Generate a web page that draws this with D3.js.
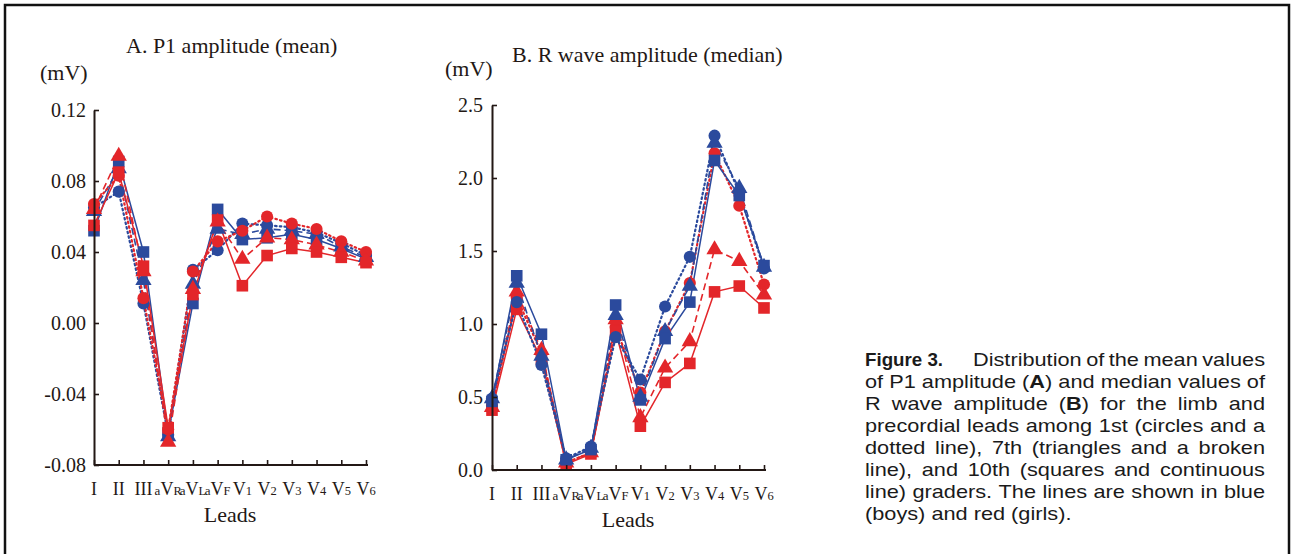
<!DOCTYPE html>
<html>
<head>
<meta charset="utf-8">
<script src="https://cdn.jsdelivr.net/npm/d3@7"></script>
<style>
  body { margin: 0; background: #fff; }
  svg { display: block; }
  .serif text, text.serif { font-family: 'Liberation Serif', 'Times New Roman', serif; }
</style>
</head>
<body>
<svg id="fig" width="1298" height="554"></svg>
<script>
// leads on the x axis
const leads = ["I", "II", "III", "aVR", "aVL", "aVF", "V1", "V2", "V3", "V4", "V5", "V6"];
// how each lead label is split: [small prefix, main, small suffix]
const leadParts = [["", "I", ""], ["", "II", ""], ["", "III", ""], ["a", "V", "R"], ["a", "V", "L"], ["a", "V", "F"],
  ["", "V", "1"], ["", "V", "2"], ["", "V", "3"], ["", "V", "4"], ["", "V", "5"], ["", "V", "6"]];

// A. P1 amplitude (mean), mV
const p1Boys1st = [0.065, 0.074, 0.011, -0.063, 0.030, 0.041, 0.056, 0.055, 0.054, 0.051, 0.045, 0.038];
const p1Boys7th = [0.063, 0.087, 0.024, -0.064, 0.022, 0.053, 0.050, 0.053, 0.052, 0.050, 0.043, 0.037];
const p1Boys10th = [0.052, 0.091, 0.040, -0.062, 0.011, 0.064, 0.047, 0.048, 0.050, 0.047, 0.042, 0.036];
const p1Girls1st = [0.067, 0.083, 0.014, -0.060, 0.029, 0.046, 0.052, 0.060, 0.056, 0.053, 0.046, 0.040];
const p1Girls7th = [0.064, 0.094, 0.029, -0.067, 0.019, 0.057, 0.036, 0.048, 0.047, 0.044, 0.040, 0.035];
const p1Girls10th = [0.055, 0.085, 0.032, -0.059, 0.016, 0.058, 0.021, 0.038, 0.042, 0.040, 0.037, 0.034];
const p1Ticks = [-0.08, -0.04, 0.00, 0.04, 0.08, 0.12];

// B. R wave amplitude (median), mV
const rBoys1st = [0.49, 1.15, 0.72, 0.08, 0.16, 0.91, 0.62, 1.12, 1.46, 2.29, 1.90, 1.38];
const rBoys7th = [0.49, 1.28, 0.78, 0.07, 0.15, 1.06, 0.50, 0.95, 1.26, 2.24, 1.93, 1.39];
const rBoys10th = [0.47, 1.33, 0.93, 0.07, 0.14, 1.13, 0.48, 0.90, 1.15, 2.12, 1.88, 1.40];
const rGirls1st = [0.44, 1.18, 0.80, 0.05, 0.12, 0.98, 0.53, 0.95, 1.28, 2.17, 1.81, 1.27];
const rGirls7th = [0.43, 1.22, 0.82, 0.05, 0.12, 1.03, 0.36, 0.70, 0.88, 1.51, 1.43, 1.20];
const rGirls10th = [0.41, 1.10, 0.76, 0.04, 0.11, 0.95, 0.30, 0.60, 0.73, 1.22, 1.26, 1.11];
const rTicks = [0.0, 0.5, 1.0, 1.5, 2.0, 2.5];

const BLUE = "#2b4a9d";
const RED = "#e3262a";
const INK = "#231815";

// grade -> marker + line style
const styles = {
  "1st": { symbol: d3.symbolCircle, size: 115, dash: "1.5,3.2", width: 2.2, cap: "round" },
  "7th": { symbol: d3.symbolTriangle, size: 115, dash: "7,4", width: 1.6, cap: "butt" },
  "10th": { symbol: d3.symbolSquare, size: 135, dash: null, width: 1.5, cap: "butt" }
};

const svg = d3.select("#fig");

// outer frame
svg.append("rect")
  .attr("x", 5).attr("y", 5).attr("width", 1284).attr("height", 560)
  .attr("fill", "none").attr("stroke", "#111").attr("stroke-width", 2.5);

function drawPanel(cfg) {
  const x = d3.scalePoint().domain(leads).range([cfg.x0, cfg.x1]);
  const y = d3.scaleLinear().domain(cfg.domain).range([cfg.yBottom, cfg.yTop]);
  const g = svg.append("g").attr("class", "serif");

  // lines first, markers on top
  cfg.series.forEach(s => {
    const st = styles[s.grade];
    const line = d3.line().x((d, i) => x(leads[i])).y(d => y(d));
    g.append("path")
      .attr("d", line(s.values))
      .attr("fill", "none")
      .attr("stroke", s.color)
      .attr("stroke-width", st.width)
      .attr("stroke-linecap", st.cap)
      .attr("stroke-dasharray", st.dash);
  });
  cfg.series.forEach(s => {
    const st = styles[s.grade];
    g.selectAll(null)
      .data(s.values)
      .enter()
      .append("path")
      .attr("d", d3.symbol().type(st.symbol).size(st.size))
      .attr("transform", (d, i) => "translate(" + x(leads[i]) + "," + y(d) + ")")
      .attr("fill", s.color);
  });

  // y axis, ticks point inward; plain hyphen for negatives
  const yAxis = g.append("g")
    .attr("transform", "translate(" + cfg.x0 + ",0)")
    .call(d3.axisLeft(y).tickValues(cfg.ticks)
      .tickFormat(d => cfg.fmt(d).replace("\u2212", "-"))
      .tickSize(-5).tickSizeOuter(0).tickPadding(cfg.pad));
  yAxis.attr("font-family", null);
  yAxis.selectAll("text").attr("font-size", 20).attr("fill", INK);

  // x axis
  const xAxis = g.append("g")
    .attr("transform", "translate(0," + cfg.yBottom + ")")
    .call(d3.axisBottom(x).tickSize(-5).tickSizeOuter(0).tickFormat(""));
  xAxis.select(".domain").attr("d", "M" + cfg.x0 + ",0H" + (cfg.x1 + 2));

  [yAxis, xAxis].forEach(a => {
    a.select(".domain").attr("stroke", INK).attr("stroke-width", 2);
    a.selectAll(".tick line").attr("stroke", INK).attr("stroke-width", 1.6);
  });

  // lead labels with small a / subscript letters
  const lab = g.append("g").attr("fill", INK);
  leads.forEach((l, i) => {
    const p = leadParts[i];
    const t = lab.append("text")
      .attr("x", x(l)).attr("y", cfg.yBottom + 30)
      .attr("text-anchor", "middle");
    if (p[0]) t.append("tspan").attr("font-size", 13).text(p[0]);
    t.append("tspan").attr("font-size", 18).text(p[1]);
    if (p[2]) t.append("tspan").attr("font-size", 12.5).text(p[2]);
  });

  g.append("text")
    .attr("x", (cfg.x0 + cfg.x1) / 2).attr("y", cfg.yBottom + 57)
    .attr("text-anchor", "middle")
    .attr("font-size", 22).attr("fill", INK)
    .text("Leads");

  g.append("text")
    .attr("x", cfg.titleX).attr("y", cfg.titleY)
    .attr("font-size", 22).attr("fill", INK)
    .text(cfg.title);

  g.append("text")
    .attr("x", cfg.unitX).attr("y", cfg.unitY)
    .attr("font-size", 22).attr("fill", INK)
    .text("(mV)");
}

drawPanel({
  x0: 94, x1: 366, yTop: 110, yBottom: 465,
  domain: [-0.08, 0.12], ticks: p1Ticks, fmt: d3.format(".2f"), pad: 8,
  title: "A. P1 amplitude (mean)", titleX: 126, titleY: 53,
  unitX: 40, unitY: 80,
  series: [
    { values: p1Boys1st, color: BLUE, grade: "1st" },
    { values: p1Boys7th, color: BLUE, grade: "7th" },
    { values: p1Boys10th, color: BLUE, grade: "10th" },
    { values: p1Girls1st, color: RED, grade: "1st" },
    { values: p1Girls7th, color: RED, grade: "7th" },
    { values: p1Girls10th, color: RED, grade: "10th" }
  ]
});

drawPanel({
  x0: 492, x1: 764, yTop: 105, yBottom: 470,
  domain: [0, 2.5], ticks: rTicks, fmt: d3.format(".1f"), pad: 9,
  title: "B. R wave amplitude (median)", titleX: 512, titleY: 62,
  unitX: 445, unitY: 76,
  series: [
    { values: rGirls1st, color: RED, grade: "1st" },
    { values: rGirls7th, color: RED, grade: "7th" },
    { values: rGirls10th, color: RED, grade: "10th" },
    { values: rBoys1st, color: BLUE, grade: "1st" },
    { values: rBoys7th, color: BLUE, grade: "7th" },
    { values: rBoys10th, color: BLUE, grade: "10th" }
  ]
});

// caption, justified line by line; *x* marks bold
const captionLines = [
  "Distribution of the mean values",
  "of P1 amplitude (*A*) and median values of",
  "R wave amplitude (*B*) for the limb and",
  "precordial leads among 1st (circles and a",
  "dotted line), 7th (triangles and a broken",
  "line), and 10th (squares and continuous",
  "line) graders. The lines are shown in blue",
  "(boys) and red (girls)."
];
const capLeft = 865, capRight = 1265, capTop = 366, capStep = 22;
const sans = "'Liberation Sans', Arial, Helvetica, sans-serif";

svg.append("text")
  .attr("x", capLeft).attr("y", capTop)
  .attr("font-family", sans).attr("fill", "#1a1a1a")
  .attr("font-weight", "bold").attr("font-size", 18.5)
  .attr("textLength", 78).attr("lengthAdjust", "spacingAndGlyphs")
  .text("Figure 3.");

// the printed face is wider than Arial: stretch glyphs horizontally
const cap = svg.append("g")
  .attr("font-family", sans).attr("font-size", 17.5)
  .attr("fill", "#1a1a1a");

function makeWords(line, yy) {
  return line.split(" ").map(w => {
    const t = cap.append("text").attr("y", yy);
    w.split("*").forEach((part, k) => {
      if (part) t.append("tspan").attr("font-weight", k % 2 ? "bold" : null).text(part);
    });
    return t;
  });
}

const probe = makeWords(captionLines[1], -100);
const spaceW = (() => {
  const t = cap.append("text").attr("y", -100).text("a a");
  const t2 = cap.append("text").attr("y", -100).text("aa");
  const w = t.node().getComputedTextLength() - t2.node().getComputedTextLength();
  t.remove(); t2.remove();
  return w;
})();
const probeW = d3.sum(probe, t => t.node().getComputedTextLength()) + spaceW * (probe.length - 1);
probe.forEach(t => t.remove());
const sx = (capRight - capLeft) / probeW;
cap.attr("transform", "translate(" + capLeft + ",0) scale(" + sx + ",1)");
const inner = (capRight - capLeft) / sx;

captionLines.forEach((line, li) => {
  const left = li === 0 ? (973 - capLeft) / sx : 0;
  const yy = capTop + li * capStep;
  const words = makeWords(line, yy);
  const widths = words.map(t => t.node().getComputedTextLength());
  const total = d3.sum(widths);
  const last = li === captionLines.length - 1;
  const gap = last ? spaceW : (inner - left - total) / (words.length - 1);
  let cx = left;
  words.forEach((t, i) => {
    t.attr("x", cx);
    cx += widths[i] + gap;
  });
});
</script>
</body>
</html>
